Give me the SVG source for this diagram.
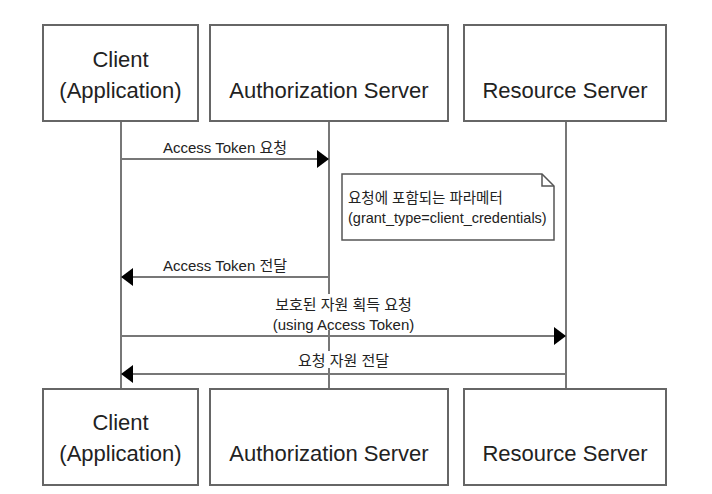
<svg xmlns="http://www.w3.org/2000/svg" width="712" height="494" viewBox="0 0 712 494">
<style>
.box{fill:#fff;stroke:#666;stroke-width:2}
.life{stroke:#777;stroke-width:2;fill:none}
.msg{stroke:#777;stroke-width:2;fill:none}
.big{font-family:"Liberation Sans","Noto Sans CJK KR",sans-serif;font-size:22px;fill:#222;text-anchor:middle}
.lbl{font-family:"Liberation Sans","Noto Sans CJK KR",sans-serif;font-size:15px;fill:#222;text-anchor:middle}
.note{fill:#fff;stroke:#555;stroke-width:1.5}
.notetxt{font-family:"Liberation Sans","Noto Sans CJK KR",sans-serif;font-size:14.5px;fill:#222}
.bg{fill:#fff}
</style>
<defs>
<marker id="ah" markerUnits="userSpaceOnUse" markerWidth="12" markerHeight="18" refX="12" refY="9" orient="auto">
<path d="M0,0 L12,9 L0,18 Z" fill="#000"/>
</marker>
</defs>
<rect width="712" height="494" fill="#fff"/>
<g id="lifelines">
<line class="life" x1="121" y1="121" x2="121" y2="389"/>
<line class="life" x1="329" y1="121" x2="329" y2="389"/>
<line class="life" x1="566" y1="121" x2="566" y2="389"/>
</g>
<g id="connectors">
<line class="msg" x1="121" y1="159" x2="329" y2="159" marker-end="url(#ah)"/>
<text class="lbl" x="225" y="153">Access Token 요청</text>
<line class="msg" x1="329" y1="277" x2="121" y2="277" marker-end="url(#ah)"/>
<text class="lbl" x="225" y="271">Access Token 전달</text>
<rect class="bg" x="265.5" y="294" width="156" height="36"/>
<text class="lbl" x="343.5" y="310">보호된 자원 획득 요청</text>
<text class="lbl" x="343.5" y="330">(using Access Token)</text>
<line class="msg" x1="121" y1="336" x2="566" y2="336" marker-end="url(#ah)"/>
<rect class="bg" x="290.5" y="351" width="106" height="17"/>
<text class="lbl" x="343.5" y="366">요청 자원 전달</text>
<line class="msg" x1="566" y1="374" x2="121" y2="374" marker-end="url(#ah)"/>
</g>
<g id="note">
<path class="note" d="M342,174 L542,174 L554,186 L554,240 L342,240 Z"/>
<path d="M542,174 L542,186 L554,186" fill="none" stroke="#555" stroke-width="1.5"/>
<text class="notetxt" x="348" y="203">요청에 포함되는 파라메터</text>
<text class="notetxt" x="348" y="223">(grant_type=client_credentials)</text>
</g>
<g id="client-top">
<rect class="box" x="43" y="25" width="155" height="96"/>
<text class="big" x="120.5" y="67">Client</text>
<text class="big" x="120.5" y="98">(Application)</text>
</g>
<g id="auth-top">
<rect class="box" x="210" y="25" width="238" height="96"/>
<text class="big" x="329" y="98">Authorization Server</text>
</g>
<g id="resource-top">
<rect class="box" x="464" y="25" width="202" height="96"/>
<text class="big" x="565" y="98">Resource Server</text>
</g>
<g id="client-bottom">
<rect class="box" x="43" y="389" width="155" height="96"/>
<text class="big" x="120.5" y="430">Client</text>
<text class="big" x="120.5" y="461">(Application)</text>
</g>
<g id="auth-bottom">
<rect class="box" x="210" y="389" width="238" height="96"/>
<text class="big" x="329" y="461">Authorization Server</text>
</g>
<g id="resource-bottom">
<rect class="box" x="464" y="389" width="202" height="96"/>
<text class="big" x="565" y="461">Resource Server</text>
</g>
</svg>
